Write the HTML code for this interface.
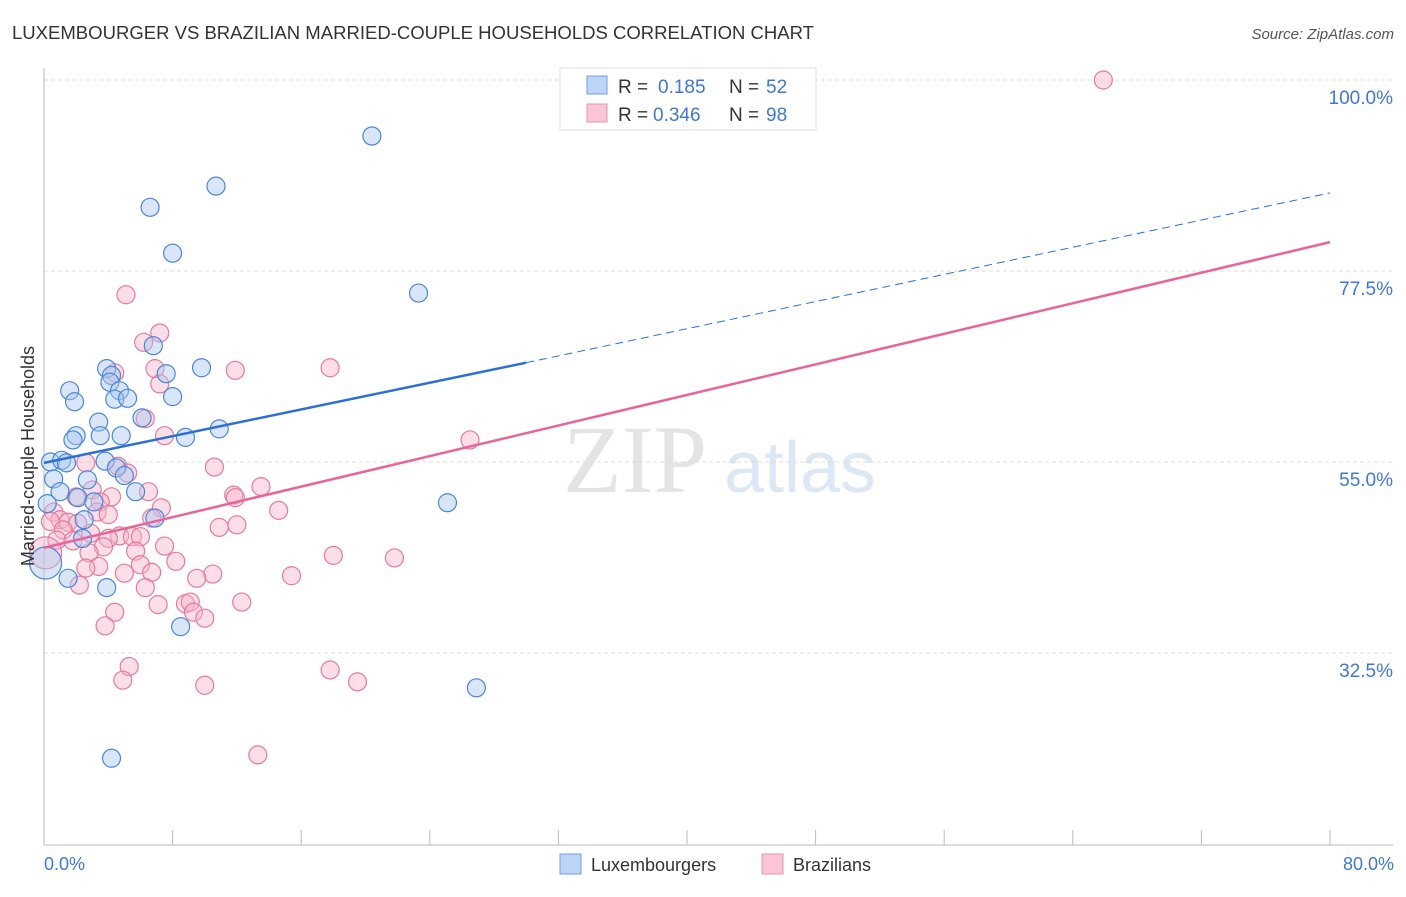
<!DOCTYPE html>
<html><head><meta charset="utf-8"><style>
body{margin:0;background:#fff;font-family:"Liberation Sans",sans-serif}
</style></head><body>
<svg id="c" width="1406" height="892" xmlns="http://www.w3.org/2000/svg">
<text x="12" y="39" font-size="18" fill="#333" textLength="802" lengthAdjust="spacingAndGlyphs">LUXEMBOURGER VS BRAZILIAN MARRIED-COUPLE HOUSEHOLDS CORRELATION CHART</text>
<text x="1394" y="39" font-size="15" fill="#555" font-style="italic" text-anchor="end">Source: ZipAtlas.com</text>
<text x="635" y="492" font-size="96" fill="#e4e4e4" font-family="Liberation Serif" text-anchor="middle">ZIP</text>
<text x="800" y="492" font-size="72" fill="#dce8f6" text-anchor="middle">atlas</text>
<g id="grid"></g><g id="pts"></g><g id="lines"></g>
<text transform="translate(34,456) rotate(-90)" font-size="18" fill="#333" text-anchor="middle">Married-couple Households</text>
<text x="44" y="870" font-size="18" fill="#3d78d8">0.0%</text>
<text x="1394" y="870" font-size="18" fill="#3d78d8" text-anchor="end">80.0%</text>
<g>
<rect x="560" y="68" width="256" height="62" fill="#fff" stroke="#ddd"/>
<rect x="587" y="76" width="20" height="18" fill="#bcd4f6" stroke="#6fa0e0"/>
<rect x="587" y="104" width="20" height="18" fill="#f9c6d6" stroke="#ec90b0"/>
<text x="618" y="93" font-size="19" fill="#333">R =</text><text x="658" y="93" font-size="19" fill="#3d78d8">0.185</text>
<text x="729" y="93" font-size="19" fill="#333">N =</text><text x="766" y="93" font-size="19" fill="#3d78d8">52</text>
<text x="618" y="121" font-size="19" fill="#333">R =</text><text x="653" y="121" font-size="19" fill="#3d78d8">0.346</text>
<text x="729" y="121" font-size="19" fill="#333">N =</text><text x="766" y="121" font-size="19" fill="#3d78d8">98</text>
</g>
<g>
<rect x="560" y="854" width="21" height="20" fill="#bcd4f6" stroke="#6fa0e0"/>
<text x="591" y="871" font-size="18" fill="#333">Luxembourgers</text>
<rect x="762" y="854" width="21" height="20" fill="#f9c6d6" stroke="#ec90b0"/>
<text x="793" y="871" font-size="18" fill="#333">Brazilians</text>
</g>
</svg>
<script>
const yTicks=[100,77.5,55,32.5];
const yTickLabels=["100.0%","77.5%","55.0%","32.5%"];
const blueX=[20.4,10.7,6.6,8.0,23.3,6.8,3.9,4.2,7.6,9.8,4.1,1.6,4.7,1.9,4.4,5.2,8.0,3.4,6.1,2.0,3.5,4.8,1.8,8.8,10.9,0.4,1.1,1.4,3.8,4.5,5.0,0.6,2.7,1.0,5.7,2.1,3.1,0.2,25.1,2.5,6.9,2.4,0.1,1.5,3.9,8.5,26.9,4.2];
const blueY=[93.4,87.5,85.0,79.6,74.9,68.7,66.0,65.2,65.4,66.1,64.4,63.4,63.4,62.1,62.4,62.5,62.7,59.7,60.2,58.1,58.1,58.1,57.6,57.9,58.9,55.0,55.2,54.9,55.1,54.3,53.4,53.0,52.9,51.5,51.5,50.8,50.3,50.1,50.2,48.2,48.4,46.0,43.1,41.3,40.2,35.6,28.4,20.1];
const pinkX=[65.9,5.1,7.2,6.2,11.9,17.8,6.9,4.4,7.2,6.3,7.5,26.5,2.6,10.6,4.6,5.2,13.5,3.0,6.5,11.8,11.9,4.2,2.0,3.5,14.6,7.3,0.6,3.3,4.0,6.7,1.0,1.5,2.1,0.4,10.9,12.0,1.2,2.9,4.7,5.5,6.0,4.0,0.8,1.8,7.5,3.7,5.7,2.8,0.1,18.0,21.8,8.2,6.0,3.4,2.6,5.0,6.7,15.4,10.5,9.5,2.2,6.3,8.8,9.1,12.3,7.1,4.4,9.3,10.0,3.8,5.3,17.8,4.9,19.5,10.0,13.3];
const pinkY=[100,74.7,70.2,69.1,65.8,66.1,66.0,65.5,64.2,60.1,58.1,57.6,54.9,54.4,54.5,53.7,52.1,51.7,51.5,51.1,50.8,50.9,50.9,50.3,49.3,49.6,49.1,49.1,48.8,48.4,48.2,47.9,47.8,48.0,47.3,47.6,47.0,46.6,46.3,46.2,46.2,46.0,45.8,45.7,45.1,45.0,44.5,44.3,44.3,44.0,43.7,43.3,42.9,42.7,42.5,41.9,42.0,41.6,41.8,41.3,40.5,40.2,38.3,38.5,38.5,38.2,37.3,37.3,36.6,35.7,30.9,30.5,29.3,29.1,28.7,20.5];
const blueLine=[[0,54.9],[30,66.7],[80,86.7]];
const pinkLine=[[0,44.9],[80,80.9]];
const NS="http://www.w3.org/2000/svg";
const X=v=>44+v*1286/80, Y=v=>80+(100-v)*191/22.5;
function mk(t,a,p){const e=document.createElementNS(NS,t);for(const k in a)e.setAttribute(k,a[k]);p.appendChild(e);return e;}
const g=document.getElementById('grid');
yTicks.forEach((t,i)=>{
 const l=mk('line',{x1:44,x2:1393,y1:Y(t),y2:Y(t),stroke:'#ddd','stroke-dasharray':'4,3'},g);
 
 
 const tx=mk('text',{x:1393,y:Y(t)+24,'font-size':19,fill:'#3d78d8','text-anchor':'end'},g);
 tx.textContent=yTickLabels[i];
 
 
});
const ax=mk('line',{x1:44,x2:44,y1:68,y2:845,stroke:'#bbb'},g);


const bx=mk('line',{x1:44,x2:1393,y1:845,y2:845,stroke:'#bbb'},g);


for(let k=0;k<=10;k++){const t=mk('line',{x1:X(k*8),x2:X(k*8),y1:830,y2:845,stroke:'#bbb'},g);
 
 }
const pg=document.getElementById('pts');
function pts(xs,ys,f,s,n){xs.forEach((x,i)=>{const big=(x<0.2&&ys[i]>43&&ys[i]<44.5);
 const c=mk('circle',{cx:X(x),cy:Y(ys[i]),r:big?16:9,fill:f,'fill-opacity':0.45,stroke:s,'stroke-width':1.2},pg);
 
 });}
pts(pinkX,pinkY,'#f7b6c9','#e57a9c','brazilian-point');
pts(blueX,blueY,'#a8c8f0','#4a86d8','luxembourger-point');
const lg=document.getElementById('lines');
const b1=mk('line',{x1:X(blueLine[0][0]),y1:Y(blueLine[0][1]),x2:X(blueLine[1][0]),y2:Y(blueLine[1][1]),stroke:'#2a6fd6','stroke-width':2.5},lg);


const b2=mk('line',{x1:X(blueLine[1][0]),y1:Y(blueLine[1][1]),x2:X(blueLine[2][0]),y2:Y(blueLine[2][1]),stroke:'#2a6fd6','stroke-width':1,'stroke-dasharray':'8,5'},lg);


const p1=mk('line',{x1:X(pinkLine[0][0]),y1:Y(pinkLine[0][1]),x2:X(pinkLine[1][0]),y2:Y(pinkLine[1][1]),stroke:'#e8649a','stroke-width':2.5},lg);


</script>
</body></html>
